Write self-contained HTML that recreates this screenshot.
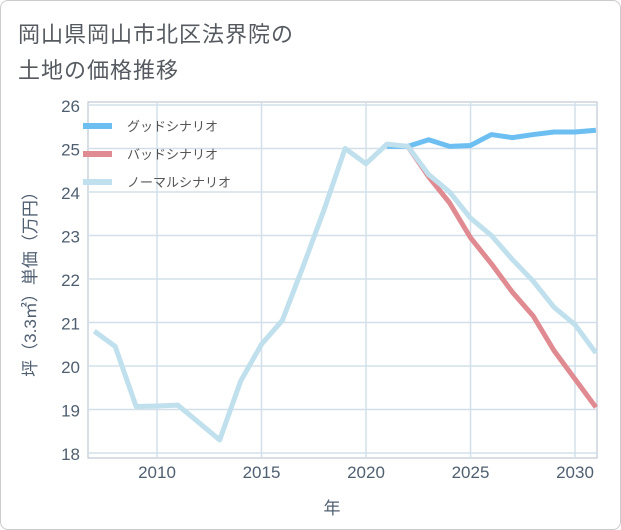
<!DOCTYPE html>
<html><head><meta charset="utf-8"><style>
body{margin:0;background:#fff;font-family:"Liberation Sans","Noto Sans CJK JP",sans-serif;}
#wrap{position:relative;width:619px;height:528px;border:1px solid #ccc;border-radius:8px;overflow:hidden;background:#fff}
.title{position:absolute;left:17px;font-size:22px;color:#555a60;letter-spacing:1px}
</style></head><body>
<div id="wrap">
<div class="title" style="top:16px">岡山県岡山市北区法界院の</div>
<div class="title" style="top:52px">土地の価格推移</div>
<svg id="chart" width="621" height="530" style="position:absolute;left:-1px;top:-1px"></svg>
</div>
<script>
const years=[2007,2008,2009,2010,2011,2012,2013,2014,2015,2016,2017,2018,2019,2020,2021,2022,2023,2024,2025,2026,2027,2028,2029,2030,2031];
const normalValues=[20.8,20.45,19.07,19.08,19.1,18.7,18.3,19.65,20.5,21.05,22.3,23.6,25.0,24.65,25.1,25.05,24.4,24.0,23.4,23.0,22.45,21.95,21.35,20.95,20.3];
const goodYears=[2021,2022,2023,2024,2025,2026,2027,2028,2029,2030,2031];
const goodValues=[25.05,25.05,25.2,25.05,25.07,25.32,25.25,25.32,25.38,25.38,25.42];
const badYears=[2022,2023,2024,2025,2026,2027,2028,2029,2030,2031];
const badValues=[25.05,24.35,23.75,22.95,22.35,21.7,21.15,20.35,19.7,19.05];
const yTicks=[18,19,20,21,22,23,24,25,26];
const xTicks=[2010,2015,2020,2025,2030];
const legendLabels=["グッドシナリオ","バッドシナリオ","ノーマルシナリオ"];
const NS="http://www.w3.org/2000/svg";
const svg=document.getElementById('chart');
const L=88,R=597,T=102,B=458;
const x=v=>157+(v-2010)*20.9;
const y=v=>453-(v-18)*43.5;
const axisColor='#4f5f70';
function mk(t,a){const e=document.createElementNS(NS,t);for(const k in a)e.setAttribute(k,a[k]);svg.appendChild(e);return e;}
const frame=mk('rect',{x:L,y:T,width:R-L,height:B-T,fill:'none',stroke:'#b0bcc8','stroke-width':1});


yTicks.forEach(t=>{
 const g=mk('line',{x1:L,x2:R,y1:y(t),y2:y(t),stroke:'#d3e0ea','stroke-width':1.5});
 
 
 const tx=mk('text',{x:L-8,y:y(t)+7,'text-anchor':'end','font-size':17,fill:axisColor});
 tx.textContent=t;
 
 
});
xTicks.forEach(t=>{
 const g=mk('line',{x1:x(t),x2:x(t),y1:T,y2:B,stroke:'#d3e0ea','stroke-width':1.5});
 
 
 const tx=mk('text',{x:x(t),y:478,'text-anchor':'middle','font-size':17,fill:axisColor});
 tx.textContent=t;
 
 
});
const xl=mk('text',{x:332,y:514,'text-anchor':'middle','font-size':17,fill:axisColor});
xl.textContent='年';


const yl=mk('text',{x:0,y:0,'text-anchor':'middle','font-size':17,fill:axisColor,transform:'translate(36,280) rotate(-90)'});
yl.textContent='坪（3.3㎡）単価（万円）';


function line(xs,vs,color,name){
 const p=mk('polyline',{points:xs.map((v,i)=>x(v)+','+y(vs[i])).join(' '),fill:'none',stroke:color,'stroke-width':5,'stroke-linejoin':'round'});
 
 
}
line(goodYears,goodValues,'#6dbff2','good-scenario-line');
line(badYears,badValues,'#e08b91','bad-scenario-line');
line(years,normalValues,'#bfe0ec','normal-scenario-line');
const colors=['#6dbff2','#e08b91','#bfe0ec'];
legendLabels.forEach((lab,i)=>{
 const yy=126+i*28;
 const s=mk('line',{x1:83,x2:112,y1:yy,y2:yy,stroke:colors[i],'stroke-width':6});
 
 
 const t=mk('text',{x:127,y:yy+5,'font-size':13,fill:'#555'});
 t.textContent=lab;
 
 
});
</script>
</body></html>
